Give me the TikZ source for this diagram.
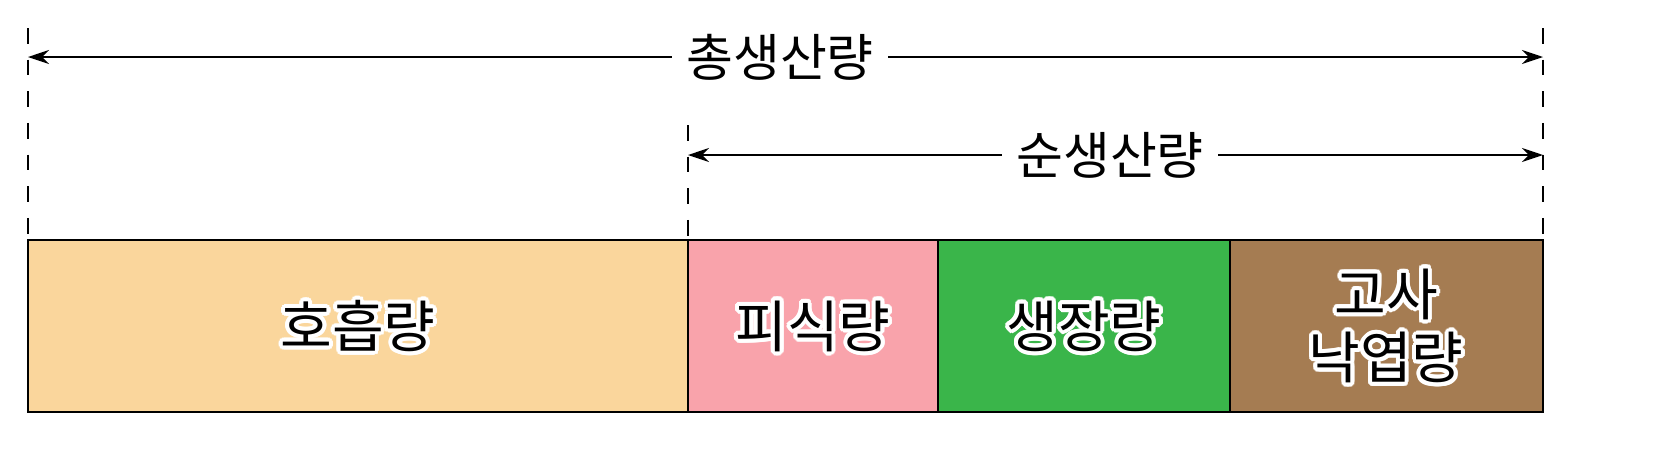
\documentclass[tikz,border=0pt]{standalone}
\usepackage{fontspec}
\newfontfamily\cjk{Noto Sans CJK KR}
\usetikzlibrary{arrows.meta}
\definecolor{cresp}{HTML}{FAD69C}
\definecolor{cpred}{HTML}{F9A3AB}
\definecolor{cgrow}{HTML}{3AB54A}
\definecolor{cdead}{HTML}{A57C52}
\newcommand{\halotext}[3]{%
  \foreach \a in {0,20,...,340}{\node[lbl,text=white] at ([shift={(\a:4)}]#1) {#3};}%
  \node[lbl] (#2) at (#1) {#3};}
\begin{document}
\begin{tikzpicture}[x=0.02cm,y=-0.02cm,
  box/.style={draw=black,line width=1.2pt},
  dim/.style={line width=1pt,{Stealth[length=12pt,width=8pt]}-{Stealth[length=12pt,width=8pt]}},
  dsh/.style={line width=1pt,dash pattern=on 9pt off 9pt},
  lbl/.style={font=\cjk\fontsize{32}{36}\selectfont,align=center,inner sep=0pt},
  top/.style={font=\cjk\fontsize{29}{32}\selectfont,fill=white,inner xsep=8pt}]
\draw[box,fill=cresp] (28,240) rectangle (688,412);
\draw[box,fill=cpred] (688,240) rectangle (938,412);
\draw[box,fill=cgrow] (938,240) rectangle (1230,412);
\draw[box,fill=cdead] (1230,240) rectangle (1543,412);
\coordinate (c1) at (358,326);
\coordinate (c2) at (813,326);
\coordinate (c3) at (1084,326);
\coordinate (c4) at (1386,326);
\halotext{c1}{t1}{호흡량}
\halotext{c2}{t2}{피식량}
\halotext{c3}{t3}{생장량}
\halotext{c4}{t4}{고사\\낙엽량}
\coordinate (a1) at (28,57); \coordinate (a2) at (1543,57);
\coordinate (b1) at (688,155); \coordinate (b2) at (1543,155);
\draw[dsh] (28,28) -- (28,240);
\draw[dsh] (1543,28) -- (1543,240);
\draw[dsh] (688,125) -- (688,240);
\draw[dim] (a1) -- (a2);
\draw[dim] (b1) -- (b2);
\node[top] (L1) at (780,57) {총생산량};
\node[top] (L2) at (1110,155) {순생산량};
\pgfresetboundingbox
\useasboundingbox (0,0) rectangle (1674,471);
\end{tikzpicture}
\end{document}
